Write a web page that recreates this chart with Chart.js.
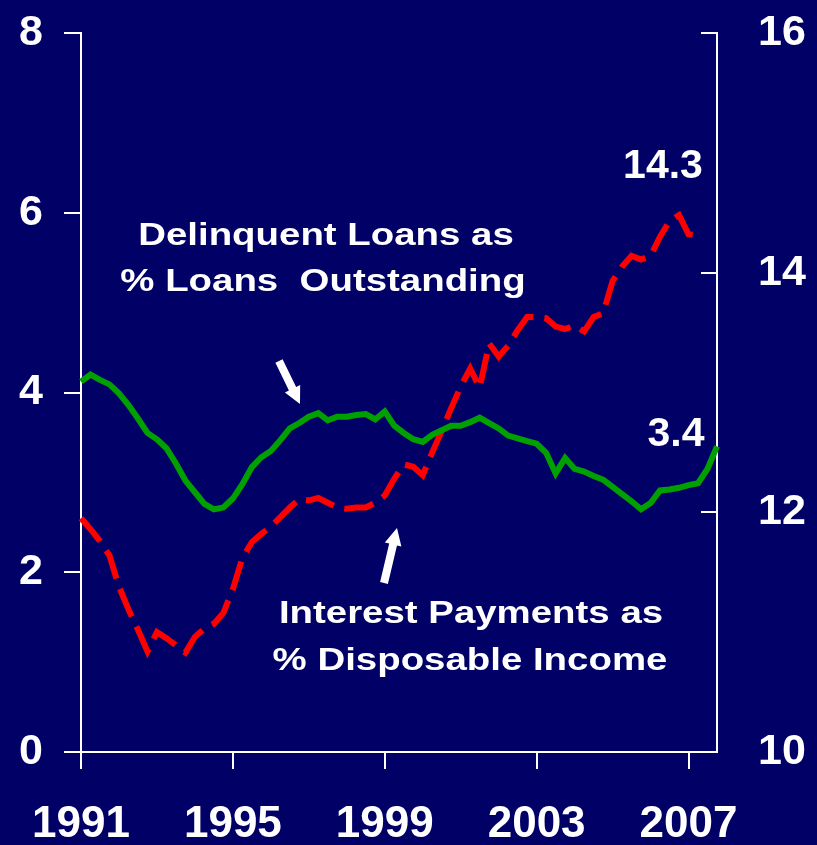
<!DOCTYPE html>
<html>
<head>
<meta charset="utf-8">
<script src="https://cdn.jsdelivr.net/npm/chart.js@4.4.1/dist/chart.umd.min.js"></script>
<style>
html,body{margin:0;padding:0;background:#000066;}
canvas{display:block;}
</style>
</head>
<body>
<canvas id="ch" width="817" height="845"></canvas>
<script>
/* quarterly, 1991Q1 .. 2007Q4 */
const YEARS=[1991,1992,1993,1994,1995,1996,1997,1998,1999,2000,2001,2002,2003,2004,2005,2006,2007];
const QUARTERS=['Q1','Q2','Q3','Q4'];
const YEAR_TICKS=[1991,1995,1999,2003,2007];

// delinquent loans as % loans outstanding (left axis)
const delinquent=[
    4.12,4.20,4.14,4.09, 3.99,3.86,3.71,3.55, 3.48,3.38,3.21,3.02, 2.89,2.76,2.70,2.72,
    2.82,2.98,3.17,3.28, 3.35,3.47,3.60,3.66, 3.73,3.77,3.69,3.73, 3.73,3.75,3.76,3.70,
    3.79,3.63,3.55,3.48, 3.45,3.53,3.58,3.63, 3.63,3.67,3.72,3.66, 3.60,3.52,3.49,3.46,
    3.43,3.33,3.10,3.27, 3.15,3.12,3.07,3.03, 2.95,2.87,2.79,2.70, 2.77,2.91,2.92,2.94,
    2.97,2.99,3.15,3.40
];
// interest payments as % disposable income (right axis)
const interest=[
    11.95,11.86,11.76,11.64, 11.38,11.19,11.02,10.84, 11.00,10.95,10.89,10.83, 10.96,11.03,11.07,11.16,
    11.36,11.62,11.75,11.82, 11.88,11.96,12.04,12.11, 12.10,12.12,12.08,12.04, 12.03,12.04,12.04,12.08,
    12.14,12.28,12.40,12.38, 12.31,12.50,12.68,12.87, 13.05,13.20,13.04,13.41, 13.30,13.39,13.52,13.63,
    13.63,13.62,13.55,13.53, 13.56,13.51,13.63,13.66, 13.93,14.05,14.14,14.11, 14.14,14.30,14.43,14.48,
    14.32,14.31,null,null
];

const labels=[];
YEARS.forEach(y=>QUARTERS.forEach(q=>labels.push(y+' '+q)));

const FONT="'Liberation Sans', Arial, sans-serif";
const NAVY='#000066';

const bgPlugin={
    id:'bg',
    beforeDraw(c){
        const ctx=c.ctx;
        ctx.save(); ctx.fillStyle=NAVY; ctx.fillRect(0,0,c.width,c.height); ctx.restore();
    }
};

function arrow(ctx,x1,y1,x2,y2,shaft,head,headLen) {
    const a=Math.atan2(y2-y1,x2-x1);
    const len=Math.hypot(x2-x1,y2-y1);
    ctx.save();
    ctx.translate(x1,y1); ctx.rotate(a);
    ctx.beginPath();
    ctx.moveTo(0,-shaft/2);
    ctx.lineTo(len-headLen,-shaft/2);
    ctx.lineTo(len-headLen,-head/2);
    ctx.lineTo(len,0);
    ctx.lineTo(len-headLen,head/2);
    ctx.lineTo(len-headLen,shaft/2);
    ctx.lineTo(0,shaft/2);
    ctx.closePath();
    ctx.fill();
    ctx.restore();
}

function wideText(ctx,txt,cx,by,size,sx) {
    ctx.save();
    ctx.translate(cx,by); ctx.scale(sx,1);
    ctx.font=`bold ${size}px ${FONT}`;
    ctx.textAlign='center'; ctx.textBaseline='alphabetic';
    ctx.fillText(txt,0,0);
    ctx.restore();
}

const notesPlugin={
    id:'notes',
    afterDraw(c){
        const ctx=c.ctx;
        const r=c.scales.y1;
        ctx.save();
        // inward ticks on the right axis
        ctx.strokeStyle='#fff'; ctx.lineWidth=2;
        r.ticks.forEach(t=>{
            const y=Math.round(r.getPixelForValue(t.value));
            ctx.beginPath(); ctx.moveTo(r.left-16,y); ctx.lineTo(r.left,y); ctx.stroke();
        });
        ctx.fillStyle='#fff';
        arrow(ctx,279,361,300,404,8,17,17);
        arrow(ctx,384,583,397,528,8,17,17);
        wideText(ctx,'Delinquent Loans as',326,245,32,1.2);
        wideText(ctx,'% Loans  Outstanding',323,291,32,1.2);
        wideText(ctx,'Interest Payments as',471,623,32,1.2);
        wideText(ctx,'% Disposable Income',470,670,32,1.2);
        ctx.font=`bold 41px ${FONT}`;
        ctx.textAlign='center'; ctx.textBaseline='alphabetic';
        ctx.fillText('14.3',663,178);
        ctx.fillText('3.4',676,446);
        ctx.restore();
    }
};

const fitY=w=>s=>{s.width=w; s.paddingTop=0; s.paddingBottom=0;};

new Chart(document.getElementById('ch').getContext('2d'),{
    type:'line',
    data:{
        labels,
        datasets:[
            {data:delinquent,yAxisID:'y',borderColor:'#00a000',borderWidth:6,pointRadius:0,tension:0,borderJoinStyle:'miter'},
            {data:interest,yAxisID:'y1',borderColor:'#ff0000',borderWidth:6,pointRadius:0,tension:0,borderDash:[30,11],borderCapStyle:'butt',spanGaps:false}
        ]
    },
    options:{
        responsive:false,
        animation:false,
        devicePixelRatio:1,
        layout:{padding:{top:33,left:0,right:0,bottom:0}},
        plugins:{legend:{display:false},tooltip:{enabled:false}},
        scales:{
            x:{
                type:'category',
                offset:false,
                afterBuildTicks:s=>{
                    s.ticks=s.ticks.filter(t=>{
                        const l=labels[t.value];
                        return l.endsWith('Q1') && YEAR_TICKS.includes(+l.slice(0,4));
                    });
                },
                afterFit:s=>{s.height=93; s.paddingLeft=0; s.paddingRight=0;},
                border:{display:true,color:'#fff',width:2},
                grid:{drawOnChartArea:false,drawTicks:true,tickLength:17,color:'#fff',lineWidth:2},
                ticks:{autoSkip:false,maxRotation:0,color:'#fff',padding:29,font:{family:FONT,size:44,weight:'bold'},
                    callback(v){return labels[v].slice(0,4);}}
            },
            y:{
                position:'left',
                min:0,max:8,
                afterFit:fitY(81),
                border:{display:true,color:'#fff',width:2},
                grid:{drawOnChartArea:false,drawTicks:true,tickLength:17,color:'#fff',lineWidth:2},
                ticks:{stepSize:2,color:'#fff',padding:21,font:{family:FONT,size:43,weight:'bold'}}
            },
            y1:{
                position:'right',
                min:10,max:16,
                afterFit:fitY(100),
                border:{display:true,color:'#fff',width:2},
                grid:{drawOnChartArea:false,drawTicks:false},
                ticks:{stepSize:2,color:'#fff',padding:41,font:{family:FONT,size:43,weight:'bold'}}
            }
        }
    },
    plugins:[bgPlugin,notesPlugin]
});
</script>
</body>
</html>
